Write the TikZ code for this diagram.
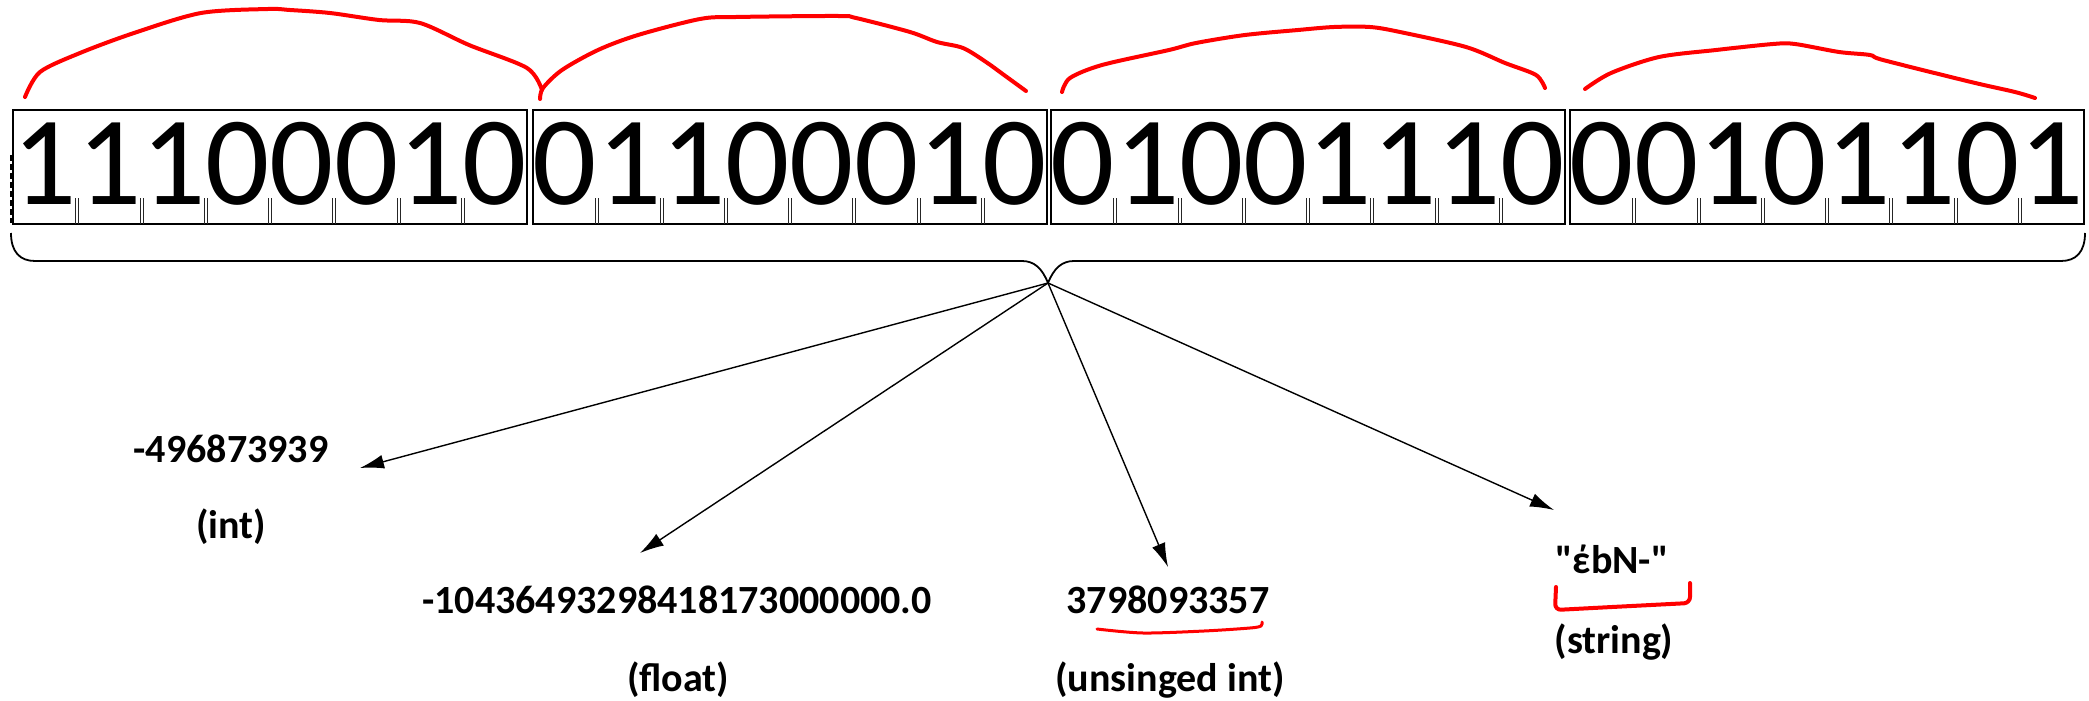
\documentclass[tikz,border=0pt]{standalone}
\usepackage{fontspec}
\setmainfont{Carlito}[Ligatures=TeXOff]
\usetikzlibrary{arrows.meta}
\begin{document}
\begin{tikzpicture}[x=0.5pt,y=-0.5pt,
  bitbox/.style={draw=black, line width=1pt},
  bit/.style={font=\fontsize{63.4}{64}\selectfont, anchor=base, inner sep=0pt},
  lbl/.style={font=\fontsize{20}{22}\selectfont\bfseries, inner sep=0pt},
  redmark/.style={draw=red, line width=2pt, line cap=round, line join=round},
  conn/.style={draw=black, line width=0.7pt, -{Latex[length=12pt,width=7pt]}},
  bracestroke/.style={draw=black, line width=0.9pt},
  tickline/.style={draw=black!85, line width=0.5pt}
]
\useasboundingbox (0,0) rectangle (2089,701);

% bytes
\foreach \bx/\n/\a/\b/\c/\d/\e/\f/\g/\h in {13/1/1/1/1/0/0/0/1/0, 533/2/0/1/1/0/0/0/1/0, 1051/3/0/1/0/0/1/1/1/0, 1570/4/0/0/1/0/1/1/0/1}{
  \draw[bitbox] (\bx,110) rectangle ++(514,114);
  \foreach \v [count=\k from 0] in {\a,\b,\c,\d,\e,\f,\g,\h}{
    \node[bit] (bit\n-\k) at ({\bx+32.1+64.25*\k},205) {\v};
  }
  \foreach \k in {1,...,7}{
    \draw[tickline] ({\bx+64.25*\k-1.5},198) -- ++(0,26);
    \draw[tickline] ({\bx+64.25*\k+1.5},198) -- ++(0,26);
  }
}
\draw[line width=1pt, dash pattern=on 3pt off 1.5pt] (11,155) -- (11,223);

% brace
\coordinate (tip) at (1048,283);
\draw[bracestroke] (11,233) .. controls (11,252) and (20,261) .. (35,261) -- (1022,261) .. controls (1034,261) and (1042,268) .. (tip);
\draw[bracestroke] (2085,233) .. controls (2085,252) and (2076,261) .. (2061,261) -- (1074,261) .. controls (1062,261) and (1054,268) .. (tip);

% labels
\node[lbl, anchor=base] (intval) at (231,462) {-496873939};
\node[lbl] (inttype) at (231,527) {(int)};
\node[lbl, anchor=base] (floatval) at (677,613) {-10436493298418173000000.0};
\node[lbl] (floattype) at (678,680) {(float)};
\node[lbl, anchor=base] (uintval) at (1168,613) {3798093357};
\node[lbl] (uinttype) at (1170,680) {(unsinged int)};
\node[lbl, anchor=base] (strval) at (1612,573) {"έbN-"};
\node[lbl] (strtype) at (1614,642) {(string)};

% arrows
\coordinate (e1) at (360,468);
\coordinate (e2) at (640,553);
\coordinate (e3) at (1168,567);
\coordinate (e4) at (1554,510);
\draw[conn] (tip) -- (e1);
\draw[conn] (tip) -- (e2);
\draw[conn] (tip) -- (e3);
\draw[conn] (tip) -- (e4);

% red marks
\draw[redmark] plot[smooth] coordinates {(25,97) (40,72) (80,53) (134,33) (201,13) (268,9) (290,10) (330,13) (379,20) (420,23) (469,45) (527,68) (542,90)};
\draw[redmark] plot[smooth] coordinates {(540,99) (543,88) (562,70) (598,50) (638,35) (700,19) (736,17) (838,16) (856,18) (910,32) (937,42) (963,48) (986,62) (1004,75) (1026,91)};
\draw[redmark] plot[smooth] coordinates {(1062,92) (1070,78) (1102,65) (1169,50) (1196,43) (1245,35) (1298,30) (1334,27) (1370,27) (1400,32) (1466,47) (1505,63) (1536,75) (1545,88)};
\draw[redmark] plot[smooth] coordinates {(1585,89) (1611,73) (1659,57) (1716,50) (1773,44) (1795,44) (1839,52) (1870,55) (1883,60) (1971,82) (2015,92) (2035,98)};
\draw[redmark, line width=1.5pt] plot[smooth] coordinates {(1097,629) (1143,633) (1204,631) (1250,628) (1261,626) (1262,622)};
\draw[redmark, rounded corners=3pt] (1556,587) -- (1555,610) -- (1612,607) -- (1690,603) -- (1690,583);
\end{tikzpicture}
\end{document}
